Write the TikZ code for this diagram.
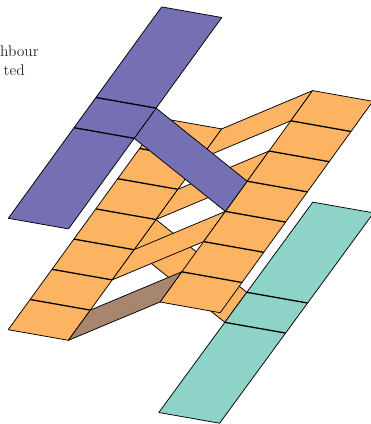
\documentclass[tikz,border=0pt]{standalone}
\definecolor{cpurple}{HTML}{7570B3}
\definecolor{corange}{HTML}{FDB462}
\definecolor{cteal}{HTML}{8DD3C7}
\definecolor{cbrown}{HTML}{A6866F}
\tikzset{
  panel/.style={draw=black,line width=0.75pt,line join=round},
  crease/.style={draw=black,line width=1.3pt},
  caption/.style={anchor=base east,inner sep=0pt,text=black!85,scale=1.08,font=\fontsize{14.4}{18}\selectfont}
}
\begin{document}
\begin{tikzpicture}[x=1bp,y=-1bp]
\useasboundingbox (0,0) rectangle (371,424);
\clip (0,0) rectangle (371,424);
% lattice: a = one edge of a strip, b = other edge
\foreach \k in {0,...,7}{
  \coordinate (La\k) at ({8.2+21.9*\k},{329.7-30.2*\k});
  \coordinate (Lb\k) at ({68.4+21.9*\k},{340.3-30.2*\k});
  \coordinate (Ra\k) at ({160+21.8*\k},{302-30.2*\k});
  \coordinate (Rb\k) at ({220.2+21.8*\k},{312.7-30.2*\k});
  \coordinate (Pa\k) at ({8.3+21.9*\k},{218.3-30.2*\k});
  \coordinate (Pb\k) at ({68.5+21.9*\k},{228.9-30.2*\k});
  \coordinate (Ta\k) at ({158.8+22*\k},{412.5-30.05*\k});
  \coordinate (Tb\k) at ({219.6+22*\k},{423.2-30.05*\k});
}
\node[caption] (capa) at (39,56.7) {hbour};
\node[caption] (capb) at (25,75.7) {ted};
% strip running under the right-hand and teal strips
\draw[panel,fill=corange] (Lb4) -- (Ta4) -- (Ta3) -- (Lb3) -- cycle;
% teal strip
\draw[panel,fill=cteal] (Ta0) -- (Ta7) -- (Tb7) -- (Tb0) -- cycle;
\foreach \k in {3,4} \draw[crease] (Ta\k) -- (Tb\k);
% left strip
\draw[panel,fill=corange] (La0) -- (La7) -- (Lb7) -- (Lb0) -- cycle;
\foreach \k in {1,...,6} \draw[crease] (La\k) -- (Lb\k);
% connecting strips
\draw[panel,fill=corange] (Lb7) -- (Ra7) -- (Ra6) -- (Lb6) -- cycle;
\draw[panel,fill=corange] (Lb5) -- (Ra5) -- (Ra4) -- (Lb4) -- cycle;
\draw[panel,fill=corange] (Lb3) -- (Ra3) -- (Ra2) -- (Lb2) -- cycle;
% right strip
\draw[panel,fill=corange] (Ra0) -- (Ra7) -- (Rb7) -- (Rb0) -- cycle;
\foreach \k in {1,...,6} \draw[crease] (Ra\k) -- (Rb\k);
% brown strip
\draw[panel,fill=cbrown] (Lb0) -- (Lb1) -- (Ra1) -- (Ra0) -- cycle;
% purple strip
\draw[panel,fill=cpurple] (Pb4) -- (Ra4) -- (Ra3) -- (Pb3) -- cycle;
\draw[panel,fill=cpurple] (Pa0) -- (Pa7) -- (Pb7) -- (Pb0) -- cycle;
\foreach \k in {3,4} \draw[crease] (Pa\k) -- (Pb\k);
\end{tikzpicture}
\end{document}
